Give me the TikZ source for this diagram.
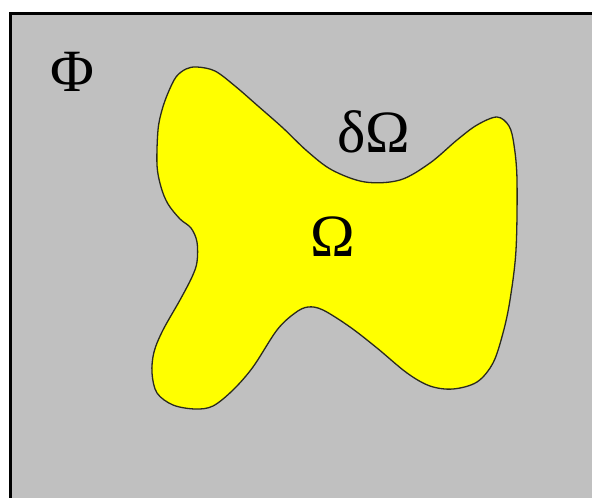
\documentclass[tikz,border=0pt]{standalone}
\usepackage{fontspec}
\setmainfont{Liberation Serif}
\usepackage{xcolor}
\definecolor{panel}{HTML}{C0C0C0}
\definecolor{region}{HTML}{FFFF00}
\definecolor{rim}{HTML}{2A2A20}
\usepackage{tikz}

\begin{document}
\begin{tikzpicture}[
  x=1pt, y=-1pt,
  frame/.style={draw=black, fill=panel, line width=3pt},
  blob/.style={draw=rim, fill=region, line width=1.3pt},
  lbl/.style={inner sep=0pt, font=\fontsize{60}{62}\selectfont}
]
\useasboundingbox (0,0) rectangle (592,498);
\clip (0,0) rectangle (592,498);

% Outer set
\draw[frame] (10.5,13.5) rectangle (620,530);

% Domain and its boundary
\draw[blob] plot[smooth cycle, tension=0.55] coordinates {
  (197,67) (215,71) (235,86) (258,106) (283,128) (307,151) (332,170)
  (365,182) (400,180) (430,163) (457,140) (477,125) (497,117) (509,126)
  (514,145) (517,180) (516,250) (510,300) (503,333) (493,363) (477,382)
  (453,389) (430,386) (407,373) (377,348) (350,327) (323,310) (308,307)
  (295,313) (277,330) (253,367) (233,390) (213,406) (195,409) (173,405)
  (157,393) (152,373) (154,352) (163,330) (180,300) (192,277) (197,262)
  (197,242) (191,228) (180,219) (168,204) (161,187) (157,165) (158,130)
  (162,110) (168,93) (176,77) (186,69)
};

% Labels
\node[lbl] (phi) at (72,72) {Φ};
\node[lbl] (dom) at (333,237) {Ω};
\node[lbl] (bnd) at (374,132) {δΩ};
\end{tikzpicture}
\end{document}
